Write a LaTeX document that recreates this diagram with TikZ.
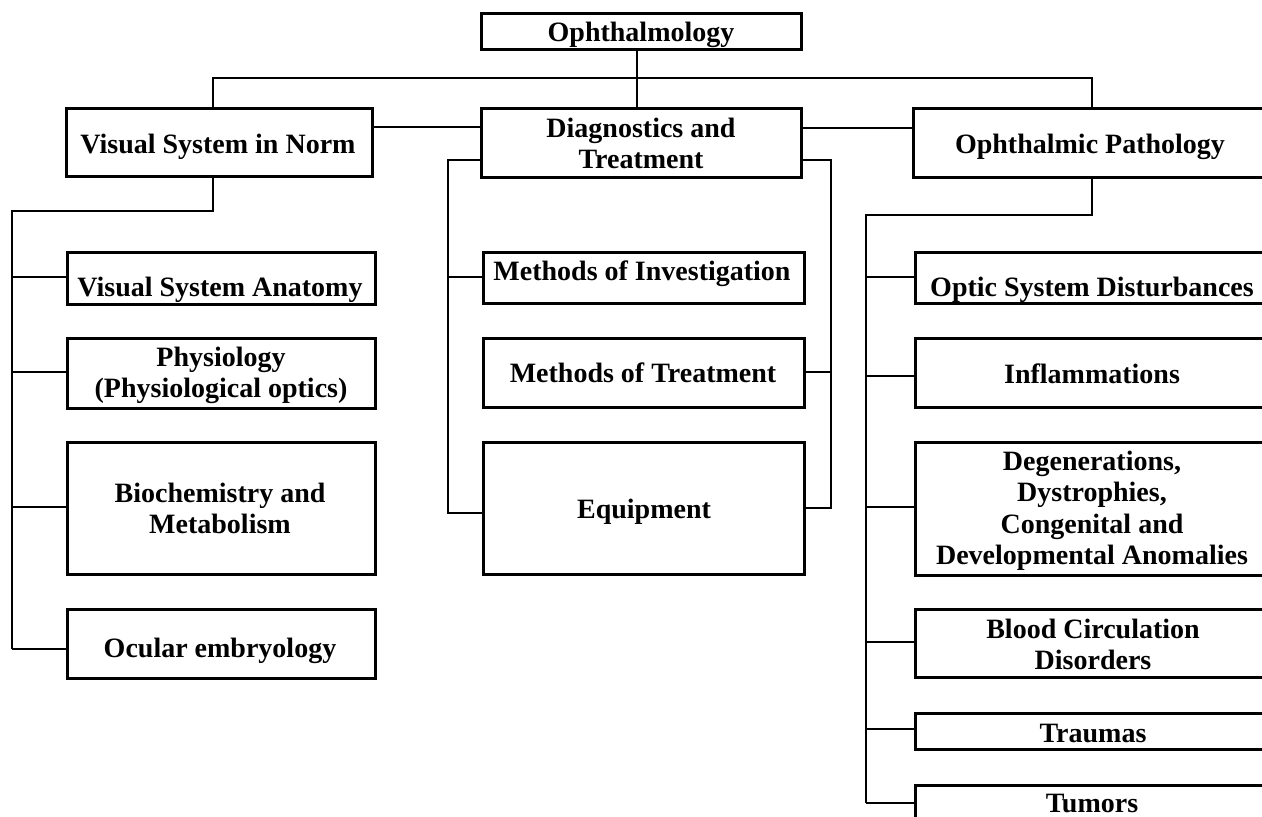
\documentclass[tikz,border=0pt]{standalone}
\usepackage{fontspec}
\setmainfont{Liberation Serif}
\usetikzlibrary{fit}
\newcommand\mlines[1]{\vtop{\def\\{\cr}\halign{\hfil##\hfil\cr#1\crcr}}}
\tikzset{
  bx/.style={draw, line width=1.5pt, inner sep=0pt},
  tx/.style={anchor=base, inner sep=0pt, font=\fontsize{14}{15.75}\selectfont\bfseries},
  cn/.style={line width=1pt}
}
\begin{document}
\begin{tikzpicture}[x=0.5pt,y=-0.5pt]
\useasboundingbox (0,0) rectangle (1262,816);
\fill[white] (0,0) rectangle (1262,816);
\clip (0,0) rectangle (1262,816);

% boxes
\node[bx, fit={(481,13) (801,49)}] (ophth) {};
\node[bx, fit={(66,108) (372,176)}] (vsn) {};
\node[bx, fit={(481,108) (801,177)}] (diag) {};
\node[bx, fit={(913,108) (1268,177)}] (op) {};
\node[bx, fit={(67,252) (375,304)}] (vsa) {};
\node[bx, fit={(67,338) (375,408)}] (phys) {};
\node[bx, fit={(67,442) (375,574)}] (bio) {};
\node[bx, fit={(67,609) (375,678)}] (ocu) {};
\node[bx, fit={(483,252) (804,303)}] (moi) {};
\node[bx, fit={(483,338) (804,407)}] (mot) {};
\node[bx, fit={(483,442) (804,574)}] (equ) {};
\node[bx, fit={(915,252) (1268,303)}] (osd) {};
\node[bx, fit={(915,338) (1268,407)}] (inf) {};
\node[bx, fit={(915,442) (1268,575)}] (deg) {};
\node[bx, fit={(915,609) (1268,677)}] (blo) {};
\node[bx, fit={(915,713) (1268,749)}] (tra) {};
\node[bx, fit={(915,785) (1268,860)}] (tum) {};

% texts
\node[tx] (ophthT) at (641,41) {Ophthalmology};
\node[tx] (vsnT) at (218,153) {Visual System in Norm};
\node[tx] (diagT) at (641,137) {\mlines{Diagnostics and\\Treatment}};
\node[tx] (opT) at (1090,153) {Ophthalmic Pathology};
\node[tx] (vsaT) at (220,296) {Visual System Anatomy};
\node[tx] (physT) at (221,366) {\mlines{Physiology\\(Physiological optics)}};
\node[tx] (bioT) at (220,502) {\mlines{Biochemistry and\\Metabolism}};
\node[tx] (ocuT) at (220,657) {Ocular embryology};
\node[tx] (moiT) at (642,280) {Methods of Investigation};
\node[tx] (motT) at (643,382) {Methods of Treatment};
\node[tx] (equT) at (644,518) {Equipment};
\node[tx] (osdT) at (1092,296) {Optic System Disturbances};
\node[tx] (infT) at (1092,383) {Inflammations};
\node[tx] (degT) at (1092,470) {\mlines{Degenerations,\\Dystrophies,\\Congenital and\\Developmental Anomalies}};
\node[tx] (bloT) at (1093,638) {\mlines{Blood Circulation\\Disorders}};
\node[tx] (traT) at (1093,742) {Traumas};
\node[tx] (tumT) at (1092,812) {Tumors};

% top connectors
\coordinate (tc) at (637,78);
\coordinate (tl) at (213,78);
\coordinate (tr) at (1092,78);
\draw[cn] (tc |- ophth.south) -- (tc |- diag.north);
\draw[cn] (tl |- vsn.north) -- (tl) -- (tr) -- (tr |- op.north);
\coordinate (h1) at (0,127);
\coordinate (h2) at (0,128);
\draw[cn] (vsn.east |- h1) -- (diag.west |- h1);
\draw[cn] (diag.east |- h2) -- (op.west |- h2);

% left column
\coordinate (lt) at (213,211);
\coordinate (l1) at (12,277);
\coordinate (l2) at (12,372);
\coordinate (l3) at (12,507);
\coordinate (lb) at (12,649);
\draw[cn] (lt |- vsn.south) -- (lt) -| (lb);
\draw[cn] (l1) -- (l1 -| vsa.west);
\draw[cn] (l2) -- (l2 -| phys.west);
\draw[cn] (l3) -- (l3 -| bio.west);
\draw[cn] (lb) -- (lb -| ocu.west);

% middle column
\coordinate (dl) at (448,160);
\coordinate (dl1) at (448,277);
\coordinate (dlb) at (448,513);
\coordinate (dr) at (831,160);
\coordinate (dr1) at (831,372);
\coordinate (drb) at (831,508);
\draw[cn] (diag.west |- dl) -- (dl) -- (dlb) -- (dlb -| equ.west);
\draw[cn] (dl1) -- (dl1 -| moi.west);
\draw[cn] (diag.east |- dr) -- (dr) -- (drb) -- (drb -| equ.east);
\draw[cn] (dr1) -- (dr1 -| mot.east);

% right column
\coordinate (ot) at (1092,215);
\coordinate (r1) at (866,277);
\coordinate (r2) at (866,376);
\coordinate (r3) at (866,507);
\coordinate (r4) at (866,642);
\coordinate (r5) at (866,729);
\coordinate (rb) at (866,803);
\draw[cn] (ot |- op.south) -- (ot) -| (rb);
\draw[cn] (r1) -- (r1 -| osd.west);
\draw[cn] (r2) -- (r2 -| inf.west);
\draw[cn] (r3) -- (r3 -| deg.west);
\draw[cn] (r4) -- (r4 -| blo.west);
\draw[cn] (r5) -- (r5 -| tra.west);
\draw[cn] (rb) -- (rb -| tum.west);
\end{tikzpicture}
\end{document}
